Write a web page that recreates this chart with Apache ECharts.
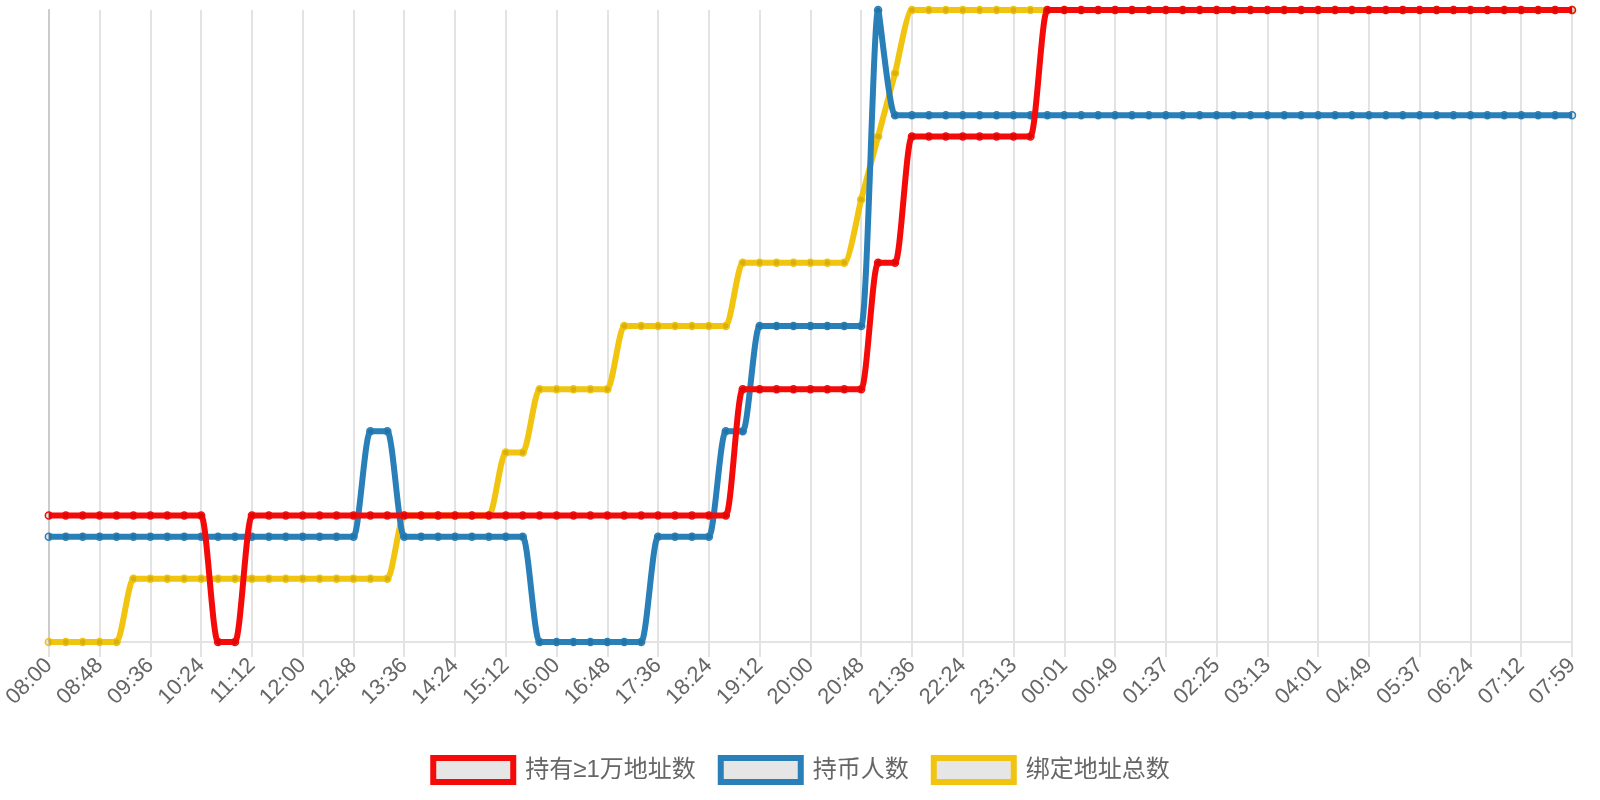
<!DOCTYPE html>
<html lang="zh">
<head>
    <meta charset="UTF-8">
    <script src="https://cdn.jsdelivr.net/npm/echarts@6/dist/echarts.min.js"></script>
    <title>持币统计</title>
    <style>
        html, body { margin: 0; padding: 0; background: #fff; }
    </style>
</head>
<body>
<div id="main" style="width: 1600px;height:800px;"></div>
<script type="text/javascript">
    // 时间轴（每 16 分钟一个点）
    var times = [
        '08:00', '08:16', '08:32', '08:48', '09:04', '09:20', '09:36', '09:52', '10:08', '10:24',
        '10:40', '10:56', '11:12', '11:28', '11:44', '12:00', '12:16', '12:32', '12:48', '13:04',
        '13:20', '13:36', '13:52', '14:08', '14:24', '14:40', '14:56', '15:12', '15:28', '15:44',
        '16:00', '16:16', '16:32', '16:48', '17:04', '17:20', '17:36', '17:52', '18:08', '18:24',
        '18:40', '18:56', '19:12', '19:28', '19:44', '20:00', '20:16', '20:32', '20:48', '21:04',
        '21:20', '21:36', '21:52', '22:08', '22:24', '22:40', '22:56', '23:13', '23:29', '23:45',
        '00:01', '00:17', '00:33', '00:49', '01:05', '01:21', '01:37', '01:53', '02:09', '02:25',
        '02:41', '02:57', '03:13', '03:29', '03:45', '04:01', '04:17', '04:33', '04:49', '05:05',
        '05:21', '05:37', '05:52', '06:08', '06:24', '06:40', '06:56', '07:12', '07:28', '07:44',
        '07:59'
    ];

    // 持有≥1万地址数
    var bigHolders = [
        153, 153, 153, 153, 153, 153, 153, 153, 153, 153,
        152, 152, 153, 153, 153, 153, 153, 153, 153, 153,
        153, 153, 153, 153, 153, 153, 153, 153, 153, 153,
        153, 153, 153, 153, 153, 153, 153, 153, 153, 153,
        153, 154, 154, 154, 154, 154, 154, 154, 154, 155,
        155, 156, 156, 156, 156, 156, 156, 156, 156, 157,
        157, 157, 157, 157, 157, 157, 157, 157, 157, 157,
        157, 157, 157, 157, 157, 157, 157, 157, 157, 157,
        157, 157, 157, 157, 157, 157, 157, 157, 157, 157,
        157
    ];

    // 持币人数
    var holders = [
        3026, 3026, 3026, 3026, 3026, 3026, 3026, 3026, 3026, 3026,
        3026, 3026, 3026, 3026, 3026, 3026, 3026, 3026, 3026, 3027,
        3027, 3026, 3026, 3026, 3026, 3026, 3026, 3026, 3026, 3025,
        3025, 3025, 3025, 3025, 3025, 3025, 3026, 3026, 3026, 3026,
        3027, 3027, 3028, 3028, 3028, 3028, 3028, 3028, 3028, 3031,
        3030, 3030, 3030, 3030, 3030, 3030, 3030, 3030, 3030, 3030,
        3030, 3030, 3030, 3030, 3030, 3030, 3030, 3030, 3030, 3030,
        3030, 3030, 3030, 3030, 3030, 3030, 3030, 3030, 3030, 3030,
        3030, 3030, 3030, 3030, 3030, 3030, 3030, 3030, 3030, 3030,
        3030
    ];

    // 绑定地址总数
    var bound = [
        4102, 4102, 4102, 4102, 4102, 4103, 4103, 4103, 4103, 4103,
        4103, 4103, 4103, 4103, 4103, 4103, 4103, 4103, 4103, 4103,
        4103, 4104, 4104, 4104, 4104, 4104, 4104, 4105, 4105, 4106,
        4106, 4106, 4106, 4106, 4107, 4107, 4107, 4107, 4107, 4107,
        4107, 4108, 4108, 4108, 4108, 4108, 4108, 4108, 4109, 4110,
        4111, 4112, 4112, 4112, 4112, 4112, 4112, 4112, 4112, 4112,
        4112, 4112, 4112, 4112, 4112, 4112, 4112, 4112, 4112, 4112,
        4112, 4112, 4112, 4112, 4112, 4112, 4112, 4112, 4112, 4112,
        4112, 4112, 4112, 4112, 4112, 4112, 4112, 4112, 4112, 4112,
        4112
    ];

    var names = ['持有≥1万地址数', '持币人数', '绑定地址总数'];
    var colors = ['#f50a0a', '#2980b9', '#f1c40f'];

    var myChart = echarts.init(document.getElementById('main'));

    // 第一条线画在最上面
    function makeSeries(idx, data) {
        return {
            name: names[idx],
            type: 'line',
            yAxisIndex: idx,
            z: 5 - idx,
            data: data,
            smooth: 0.19,
            symbol: 'circle',
            symbolSize: 7,
            showAllSymbol: true,
            lineStyle: { color: colors[idx], width: 6 },
            itemStyle: { color: 'rgba(0,0,0,0.1)', borderColor: colors[idx], borderWidth: 1.5 }
        };
    }

    var hiddenAxis = {
        type: 'value',
        min: 'dataMin',
        max: 'dataMax',
        show: false,
        splitLine: { show: false }
    };

    var option = {
        animation: false,
        textStyle: { fontFamily: '"Liberation Sans", Arial, "Noto Sans CJK SC", sans-serif' },
        grid: { left: 46, right: 28, top: 10, bottom: 158 },
        legend: {
            top: 755,
            left: 'center',
            padding: 0,
            itemGap: 22,
            itemWidth: 80,
            itemHeight: 24,
            icon: 'rect',
            textStyle: { color: '#666', fontSize: 24, padding: [0, 0, 0, 7] },
            data: names.map(function (n, i) {
                return {
                    name: n,
                    itemStyle: { color: '#e6e6e6', borderColor: colors[i], borderWidth: 6 }
                };
            })
        },
        xAxis: {
            type: 'category',
            boundaryGap: false,
            data: times,
            axisLine: { lineStyle: { color: '#e3e3e3', width: 2 } },
            axisTick: { show: true, interval: 2, length: 15, lineStyle: { color: '#e3e3e3', width: 2 } },
            axisLabel: { interval: 2, rotate: 45, color: '#666', fontSize: 22, margin: 20 },
            splitLine: { show: true, interval: 2, lineStyle: { color: '#e3e3e3', width: 2 } }
        },
        yAxis: [
            {
                type: 'value',
                min: 'dataMin',
                max: 'dataMax',
                axisLine: { show: true, lineStyle: { color: '#cccccc', width: 2 } },
                axisTick: { show: false },
                axisLabel: { show: false },
                splitLine: { show: false }
            },
            hiddenAxis,
            hiddenAxis
        ],
        series: [
            makeSeries(0, bigHolders),
            makeSeries(1, holders),
            makeSeries(2, bound)
        ]
    };

    myChart.setOption(option);
</script>
</body>
</html>
